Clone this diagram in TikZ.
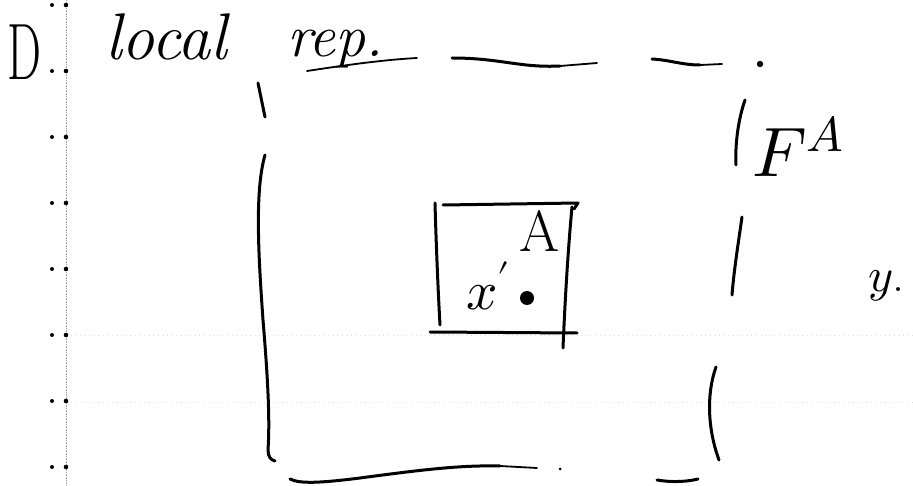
\documentclass[tikz,border=0pt]{standalone}
\usepackage{fontspec}
\usepackage{unicode-math}
\begin{document}
\begin{tikzpicture}[x=1pt,y=-1pt,
  pen/.style={line width=3pt, line cap=round, line join=round},
  thinpen/.style={line width=1.8pt, line cap=round, line join=round},
  grid/.style={gray!70, densely dotted, line width=0.6pt},
  faint/.style={gray!25, loosely dotted, line width=0.6pt},
  hand/.style={inner sep=0pt, outer sep=0pt}]
\useasboundingbox (0,0) rectangle (913,486);
% faint ruled paper
\draw[grid] (66,0) -- (66,486);
\draw[faint] (66,335) -- (913,335);
\draw[faint] (66,402) -- (913,402);
\foreach \yy in {5,71,137,203,269,335,401,467} {
  \fill (52,\yy) circle (2);
  \fill (66,\yy) circle (2.3);
}
% title texts
\node[hand, anchor=base west, font=\fontsize{80}{80}\selectfont] (D) at (8,80) {\scalebox{0.6}[1]{D}};
\node[hand, anchor=base west, font=\fontsize{66}{66}\selectfont\itshape] (local) at (105,60) {local};
\node[hand, anchor=base west, font=\fontsize{60}{60}\selectfont\itshape] (rep) at (287,57) {rep.};
% dashed outer frame (hand drawn pieces)
\draw[thinpen] (307,71) .. controls (340,66) and (380,60) .. (417,58);
\draw[pen] (452,58) .. controls (500,58) and (520,68) .. (560,66);
\draw[thinpen] (560,66) -- (597,63);
\draw[pen] (652,59) .. controls (670,60) and (682,65) .. (700,65);
\draw[thinpen] (700,65) -- (722,64);
\fill (760,64) circle (3.2);
\draw[pen] (258,83) -- (265,117);
\draw[pen] (265,155) .. controls (255,190) and (258,250) .. (263,320)
                    .. controls (268,380) and (270,420) .. (268,450)
                    .. controls (268,457) and (271,460) .. (275,461);
\draw[pen] (745,100) .. controls (738,120) and (735,145) .. (736,165);
\draw[pen] (742,217) .. controls (738,245) and (734,270) .. (732,295);
\draw[pen] (716,367) .. controls (706,395) and (708,430) .. (719,460);
\draw[pen] (290,479) .. controls (300,484) and (320,483) .. (360,478)
                    .. controls (420,470) and (460,465) .. (500,466);
\draw[thinpen] (500,466) -- (537,468);
\fill (560,469) circle (1.5);
\draw[pen] (657,480) .. controls (675,483) and (690,481) .. (698,479);
% inner box A
\draw[pen] (435,203) .. controls (436,240) and (438,290) .. (440,325);
\draw[pen] (443,205) -- (578,203) -- (574,209);
\draw[pen] (572,207) .. controls (568,250) and (565,300) .. (563,348);
\draw[pen] (430,332) -- (577,333);
\node[hand, anchor=base, font=\fontsize{58}{58}\selectfont] (A) at (540,252) {A};
\node[hand, anchor=base west, font=\fontsize{55}{55}\selectfont] (x) at (466,310) {$x'$};
\fill (527,298) circle (7);
% label F^A
\node[hand, anchor=base west, font=\fontsize{70}{70}\selectfont] (F) at (752,177) {$F^A$};
% label y.
\node[hand, anchor=base west, font=\fontsize{48}{48}\selectfont] (y) at (868,292) {$y$.};
\end{tikzpicture}
\end{document}
